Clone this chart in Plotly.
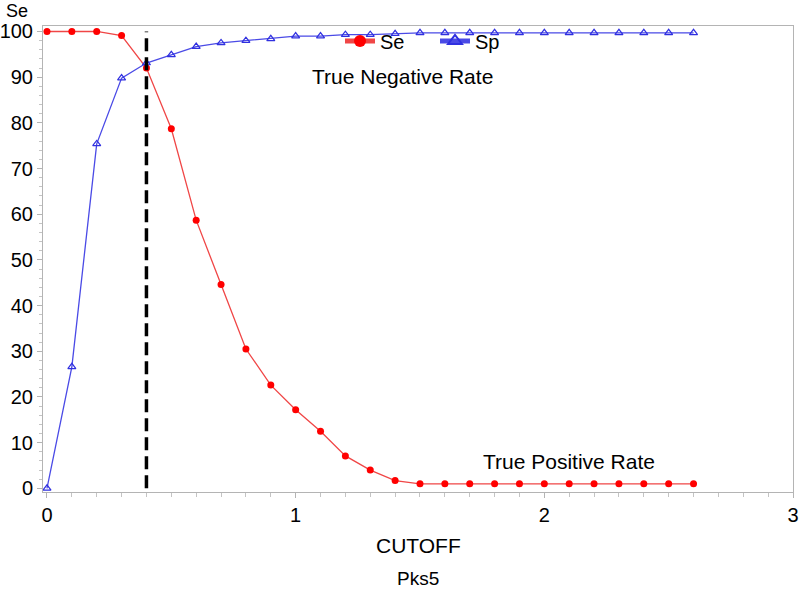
import plotly.graph_objects as go

# ---- data ----
cutoff = [0.0, 0.1, 0.2, 0.3, 0.4, 0.5, 0.6, 0.7, 0.8, 0.9, 1.0, 1.1, 1.2, 1.3,
          1.4, 1.5, 1.6, 1.7, 1.8, 1.9, 2.0, 2.1, 2.2, 2.3, 2.4, 2.5, 2.6]
se = [100.0, 100.0, 100.0, 99.1, 92.0, 78.7, 58.7, 44.6, 30.5, 22.6, 17.2, 12.5, 7.1, 4.0,
      1.7, 1.0, 1.0, 1.0, 1.0, 1.0, 1.0, 1.0, 1.0, 1.0, 1.0, 1.0, 1.0]
sp = [0.0, 26.6, 75.4, 89.8, 93.1, 94.9, 96.7, 97.5, 98.0, 98.4, 99.0, 99.0, 99.3, 99.3,
      99.5, 99.7, 99.7, 99.7, 99.7, 99.7, 99.7, 99.7, 99.7, 99.7, 99.7, 99.7, 99.7]
best_cutoff = 0.4
x_ticks = [0, 1, 2, 3]
y_ticks = [0, 10, 20, 30, 40, 50, 60, 70, 80, 90, 100]

FONT = "Liberation Sans, Arial, sans-serif"

fig = go.Figure()
fig.add_trace(go.Scatter(
    x=cutoff, y=se, name="Se", mode="lines+markers",
    line=dict(color="#f04646", width=1.3),
    marker=dict(symbol="circle", size=7, color="#ff0000"),
))
fig.add_trace(go.Scatter(
    x=cutoff, y=sp, name="Sp", mode="lines+markers",
    line=dict(color="#4a4ae6", width=1.3),
    marker=dict(symbol="triangle-up-open", size=7, color="#3030e0", line=dict(width=1.2)),
))

fig.add_shape(type="line", xref="x", yref="y",
              x0=best_cutoff, x1=best_cutoff, y0=0, y1=100,
              line=dict(color="black", width=3.5, dash="13px,6px"))

fig.add_annotation(x=1.43, y=90.1, xref="x", yref="y", text="True Negative Rate",
                   showarrow=False, font=dict(size=21, color="black", family=FONT))
fig.add_annotation(x=2.10, y=5.9, xref="x", yref="y", text="True Positive Rate",
                   showarrow=False, font=dict(size=21, color="black", family=FONT))
fig.add_annotation(x=-0.0347, y=1.0558, xref="paper", yref="paper", text="Se",
                   showarrow=False, xanchor="center", yanchor="top", borderpad=0,
                   font=dict(size=18, color="black", family=FONT))
fig.add_annotation(x=0.5, y=-0.1148, xref="paper", yref="paper", text="CUTOFF",
                   showarrow=False, xanchor="center", yanchor="middle",
                   font=dict(size=21, color="black", family=FONT))
fig.add_annotation(x=0.5, y=-0.186, xref="paper", yref="paper", text="Pks5",
                   showarrow=False, xanchor="center", yanchor="middle",
                   font=dict(size=19, color="black", family=FONT))

axis_common = dict(
    showgrid=False, zeroline=False, showline=True, mirror=True,
    linecolor="#b4b4b4", linewidth=1, automargin=False,
    ticks="outside", tickcolor="#b4b4b4", ticklen=5,
    tickfont=dict(size=20, color="black", family=FONT),
)

fig.update_xaxes(range=[-0.016, 3.0], tickvals=x_ticks,
                 minor=dict(dtick=0.1, ticks="outside", ticklen=4, tickcolor="#c4c4c4"),
                 **axis_common)
fig.update_yaxes(range=[-0.8, 101.2], tickvals=y_ticks,
                 minor=dict(dtick=2, ticks="outside", ticklen=3, tickcolor="#c4c4c4"),
                 **axis_common)

fig.update_layout(
    template="none",
    width=800, height=590,
    margin=dict(l=43, r=7, t=26, b=98, autoexpand=False),
    paper_bgcolor="white", plot_bgcolor="white",
    font=dict(family=FONT, color="black"),
    showlegend=True,
    legend=dict(orientation="h", x=0.396, y=0.968, xanchor="left", yanchor="middle",
                bgcolor="rgba(0,0,0,0)", font=dict(size=20, family=FONT),
                itemsizing="constant", tracegroupgap=0, itemwidth=30,
                entrywidth=50, entrywidthmode="pixels"),
)

fig.write_html("out.html", config={"displayModeBar": False},
               post_script="document.body.style.margin='0';document.body.style.overflow='hidden';")
